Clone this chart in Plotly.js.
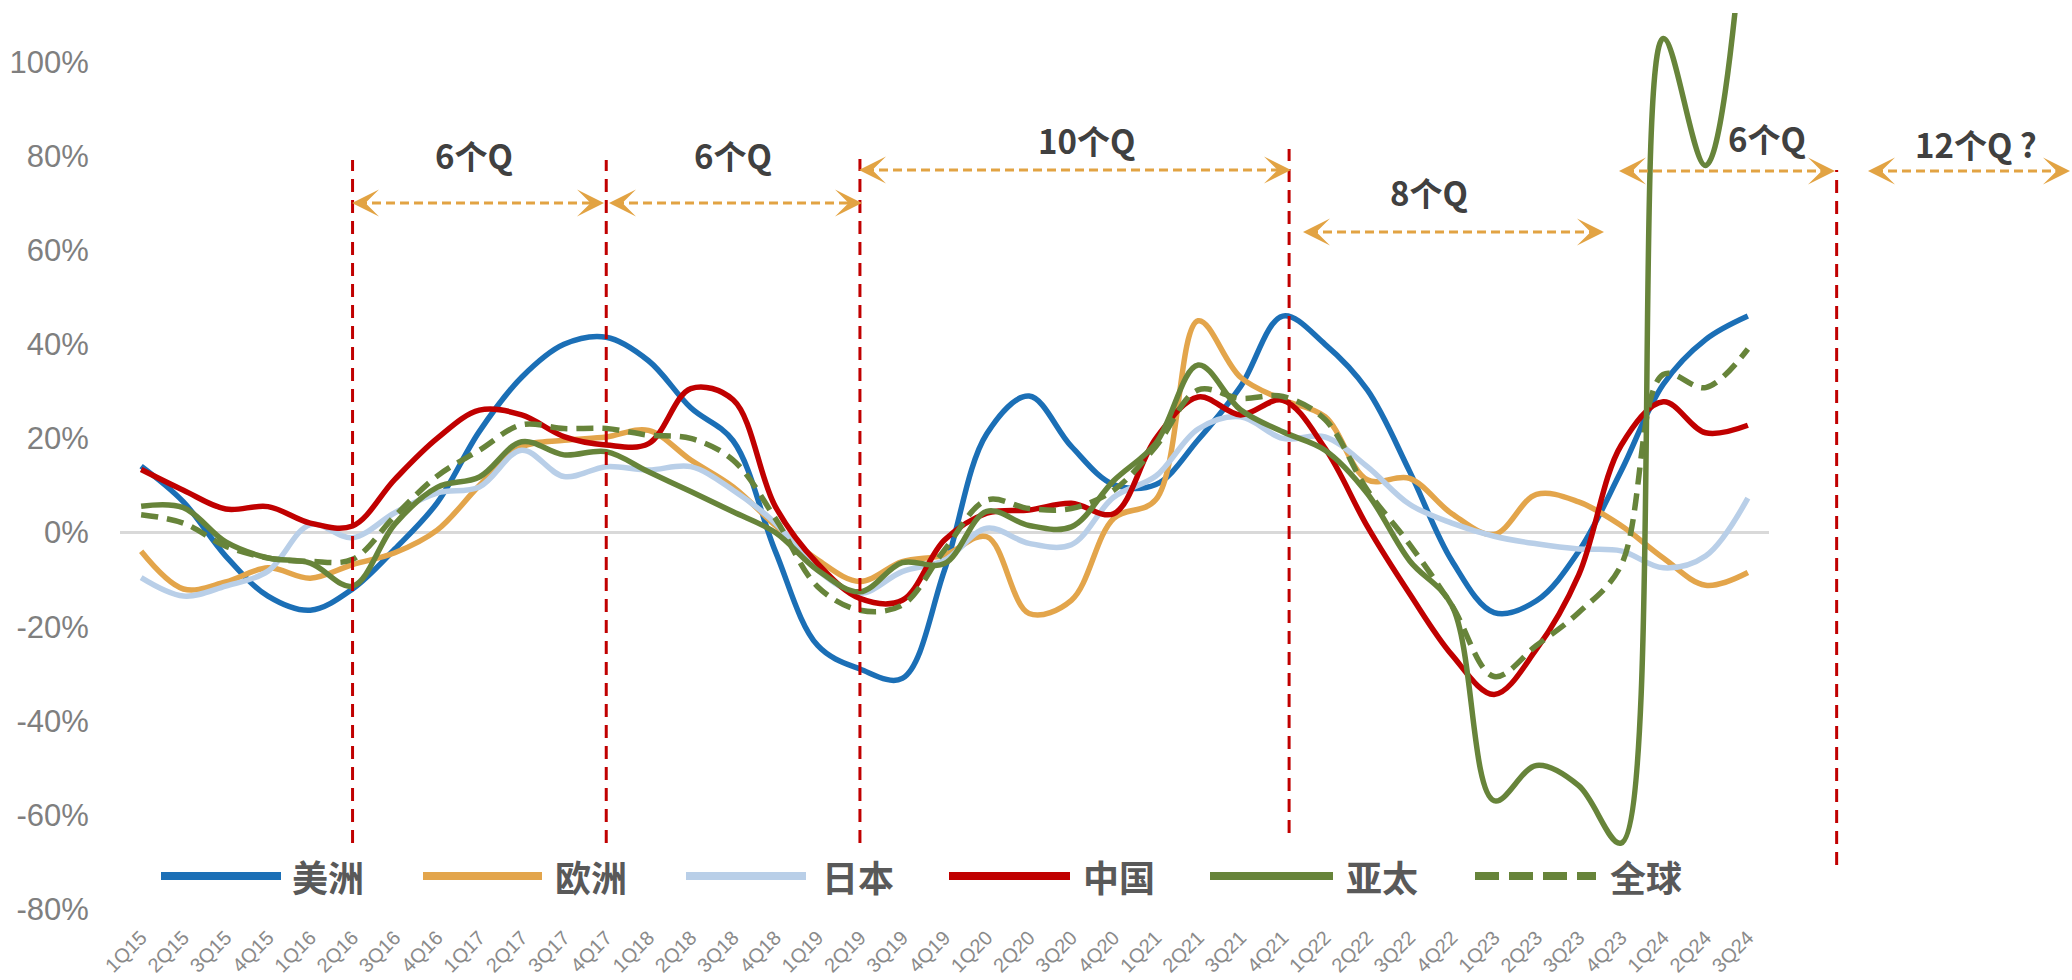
<!DOCTYPE html>
<html><head><meta charset="utf-8">
<script src="https://cdn.plot.ly/plotly-3.0.1.min.js"></script>
<style>html,body{margin:0;padding:0;background:#fff;overflow:hidden}#chart{width:2072px;height:980px}</style>
</head><body><div id="chart"></div>
<script>
// ---------- data ----------
const quarters = ['1Q15','2Q15','3Q15','4Q15','1Q16','2Q16','3Q16','4Q16','1Q17','2Q17','3Q17','4Q17',
  '1Q18','2Q18','3Q18','4Q18','1Q19','2Q19','3Q19','4Q19','1Q20','2Q20','3Q20','4Q20',
  '1Q21','2Q21','3Q21','4Q21','1Q22','2Q22','3Q22','4Q22','1Q23','2Q23','3Q23','4Q23',
  '1Q24','2Q24','3Q24'];
const seriesNames = ['美洲','欧洲','日本','中国','亚太','全球'];
const americas = [14.1, 6.5, -5, -13.5, -16.5, -12, -3.5, 6.3, 21.5, 33, 40, 41.5, 36.5, 26.5, 19.5,
  -4, -24, -29, -31, -8, 21, 29, 18.3, 10.2, 10.2, 19.7, 31, 46, 40, 30.3,
  13, -6, -17, -14.5, -4, 13, 31.5, 41, 46];
const europe = [-4, -12, -10.5, -7.5, -9.7, -6.8, -4.3, 0.5, 10, 18.2, 19.6, 20.3, 21.7, 15.4, 9.7,
  1.5, -5.8, -10.4, -6.2, -4.8, -0.9, -17.2, -14.4, 3, 7, 45, 33, 28.2, 24.6, 11.2,
  11.5, 4, -0.4, 8.1, 6.5, 1.5, -5.4, -11.2, -8.5];
const japan = [-9.6, -13.5, -11.4, -8.2, 1.7, -1.1, 4.2, 8.4, 9.7, 17.5, 11.9, 14, 13.3, 14, 9,
  2, -8, -12.9, -8.3, -5.9, 0.9, -2.3, -2.6, 7.5, 12, 22, 24.6, 20, 20.3, 14,
  6, 2, -0.8, -2.4, -3.5, -3.9, -7.5, -5, 7.3];
const china = [13.4, 9, 5, 5.5, 2, 1.4, 11.3, 20, 26, 25, 20.4, 18.6, 18.9, 30.6, 28.2,
  5.5, -6.6, -14, -14.4, -1.6, 4.1, 4.8, 6.2, 4, 20, 28.8, 25, 28.1, 17.9, 1.3,
  -13, -26, -34.4, -24.8, -9, 18.5, 27.8, 21.2, 22.8];
const apac = [5.6, 5.3, -2, -5.4, -6.5, -11.4, 1.8, 9.6, 11.8, 19.3, 16.5, 17.2, 12.9, 8.7, 4.4,
  0, -8, -12.6, -6.4, -6.6, 4.5, 1.5, 1.2, 11, 19, 35.6, 26.1, 21.4, 17.5, 8.3,
  -6, -15.5, -57, -49.5, -53.8, -66, 105, 78, 140];
const globalS = [3.8, 2, -2.9, -5.4, -6.1, -5.7, 3.5, 12, 17.5, 22.9, 22.1, 22.1, 20.7, 20, 15.4,
  3, -11.5, -16.5, -15.4, -3.7, 6.9, 5.1, 5.1, 9, 18.3, 30.3, 28.5, 28.9, 24, 9,
  -2.5, -15.5, -30.6, -24, -17, -7, 33.6, 30.8, 39];
const yTicks = [-80, -60, -40, -20, 0, 20, 40, 60, 80, 100];
const spanLabels = ['6个Q', '6个Q', '10个Q', '8个Q', '6个Q', '12个Q ?'];

// ---------- styles / layout geometry ----------
const seriesValues = [americas, europe, japan, china, apac, globalS];
const seriesColors = ['#1b6fb6', '#e3a54b', '#b9cfe8', '#c00000', '#67843a', '#67843a'];
const seriesDash = ['solid', 'solid', 'solid', 'solid', 'solid', '17px,9px'];

const W = 2072, H = 980, PL = 120, PR = 303, PT = 13, PB = 71;
const PW = W - PL - PR, PH = H - PT - PB;
const xp = px => (px - PL) / PW;
const yp = py => (H - PB - py) / PH;
const catX = i => (i + 0.5) / quarters.length;

const traces = seriesValues.map((vals, k) => ({
  type: 'scatter', mode: 'lines', x: quarters, y: vals, name: seriesNames[k],
  line: { color: seriesColors[k], width: 5.5, shape: 'spline', smoothing: 1, dash: seriesDash[k] },
  showlegend: false, hoverinfo: 'skip'
}));

const shapes = [];
const annotations = [];

// red dashed period separators (category index, top px, bottom px)
const separators = [[5, 160, 843], [11, 160, 843], [17, 159, 843], [27.15, 149, 833], [40.1, 170, 865]];
separators.forEach(([q, top, bot]) => {
  shapes.push({ type: 'line', xref: 'paper', yref: 'paper', x0: catX(q), x1: catX(q), y0: yp(bot), y1: yp(top),
    line: { color: '#c00000', width: 3, dash: '13px,8px' } });
});

// orange double arrows
const ORANGE = '#e2a343';
const arrows = [[352, 604, 203], [609, 862, 203], [859, 1291, 170], [1303, 1604, 232], [1619, 1835, 171], [1868, 2070, 171]];
arrows.forEach(([a, b, y]) => {
  shapes.push({ type: 'line', xref: 'paper', yref: 'paper', x0: xp(a + 6), x1: xp(b - 6), y0: yp(y), y1: yp(y),
    line: { color: ORANGE, width: 3, dash: '9px,5px' } });
  [[a, 16], [b, -16]].forEach(([tip, off]) => {
    annotations.push({ xref: 'paper', yref: 'paper', x: xp(tip), y: yp(y), axref: 'pixel', ayref: 'pixel',
      ax: off, ay: 0, text: '', showarrow: true, arrowhead: 3, arrowsize: 1.8, arrowwidth: 2.5, arrowcolor: ORANGE });
  });
});

// span labels
const labelPos = [[474, 155], [733, 155], [1086, 140], [1429, 192], [1767, 138], [1976, 144]];
spanLabels.forEach((t, i) => {
  annotations.push({ xref: 'paper', yref: 'paper', x: xp(labelPos[i][0]), y: yp(labelPos[i][1]),
    xanchor: 'center', yanchor: 'middle', text: t, showarrow: false,
    font: { family: 'Noto Sans CJK SC, Noto Sans, sans-serif', size: 33, color: '#404040', weight: 700 } });
});

// custom legend
const legendPos = [[161, 281, 290], [423, 542, 553], [686, 806, 820], [949, 1070, 1081], [1210, 1333, 1344], [1475, 1596, 1608]];
const legendY = 876;
seriesNames.forEach((n, k) => {
  const [x0, x1, tx] = legendPos[k];
  shapes.push({ type: 'line', xref: 'paper', yref: 'paper', x0: xp(x0), x1: xp(x1), y0: yp(legendY), y1: yp(legendY),
    line: { color: seriesColors[k], width: 8, dash: k === 5 ? '24px,10px' : 'solid' } });
  annotations.push({ xref: 'paper', yref: 'paper', x: xp(tx), y: yp(legendY), xanchor: 'left', yanchor: 'middle',
    text: n, showarrow: false,
    font: { family: 'Noto Sans CJK SC, sans-serif', size: 36, color: '#595959', weight: 700 } });
});

const layout = {
  width: W, height: H,
  margin: { l: PL, r: PR, t: PT, b: PB, pad: 0 },
  paper_bgcolor: '#ffffff', plot_bgcolor: '#ffffff',
  showlegend: false,
  xaxis: {
    type: 'category', categoryorder: 'array', categoryarray: quarters,
    range: [-0.5, quarters.length - 0.5], tickmode: 'linear', tick0: 0, dtick: 1,
    tickangle: -45, tickfont: { family: 'Liberation Sans, Arial, sans-serif', size: 20, color: '#8a8a8a' },
    showgrid: false, zeroline: false, showline: false,
    ticks: 'outside', ticklen: 8, tickcolor: 'rgba(0,0,0,0)', fixedrange: true
  },
  yaxis: {
    range: [-80, 110.4], tickmode: 'array', tickvals: yTicks, ticktext: yTicks.map(v => v + '%'),
    tickfont: { family: 'Liberation Sans, Arial, sans-serif', size: 31, color: '#7f7f7f' },
    showgrid: false, zeroline: true, zerolinecolor: '#d9d9d9', zerolinewidth: 3, showline: false,
    ticks: 'outside', ticklen: 24, tickcolor: 'rgba(0,0,0,0)', fixedrange: true
  },
  shapes: shapes,
  annotations: annotations
};

Plotly.newPlot('chart', traces, layout, { staticPlot: true, displayModeBar: false });
</script>
</body></html>
